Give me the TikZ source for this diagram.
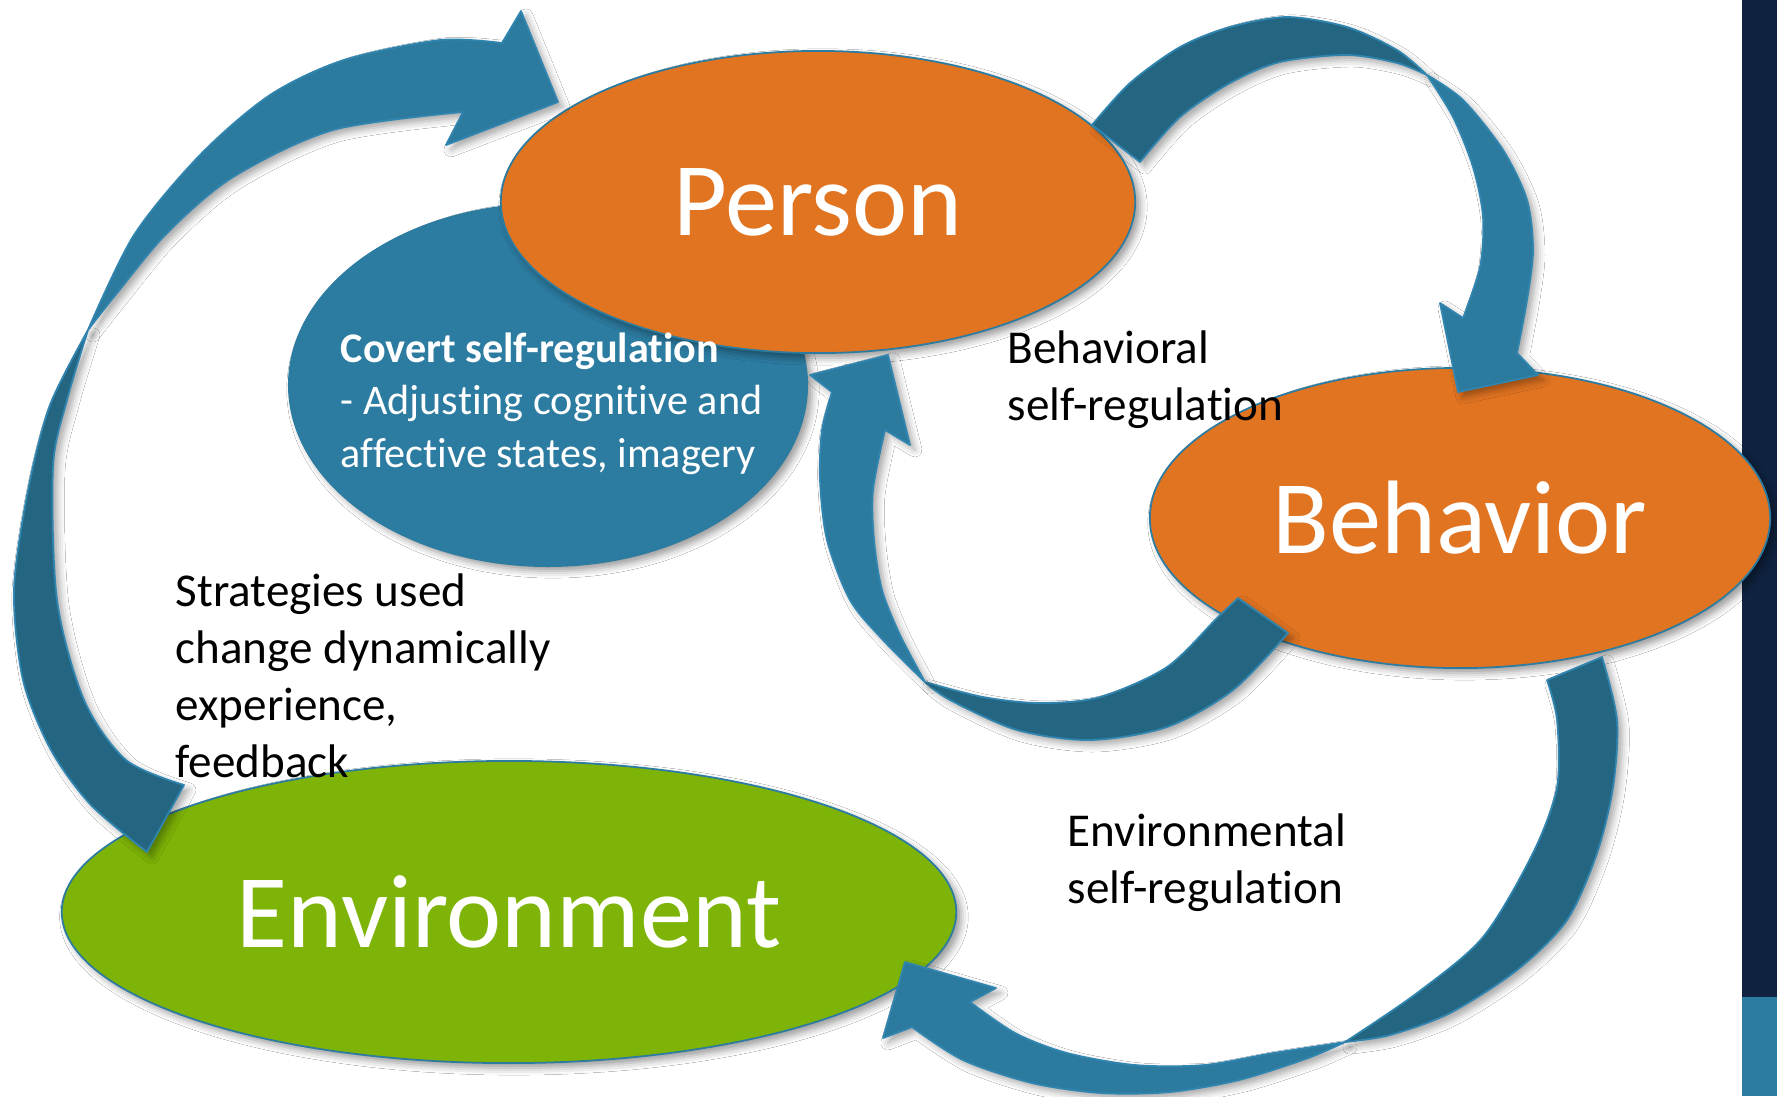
\documentclass[tikz,border=0pt]{standalone}
\usepackage{fontspec}
\setmainfont{Carlito}[Ligatures=NoCommon]
\usetikzlibrary{shapes.geometric, shadows.blur}

\definecolor{orangefill}{HTML}{E17421}
\definecolor{greenfill}{HTML}{7EB407}
\definecolor{bluefill}{HTML}{2C7BA0}
\definecolor{arrowlight}{HTML}{2C7A9E}
\definecolor{arrowdark}{HTML}{246682}
\definecolor{arrowedge}{HTML}{3086B0}
\definecolor{navybar}{HTML}{0F2340}
\definecolor{bgedge}{HTML}{E4E4E4}
\definecolor{bgmid}{HTML}{F5F5F5}

\pgfdeclareradialshading{pagebg}{\pgfpoint{0bp}{0bp}}{color(0bp)=(white); color(38bp)=(white); color(55bp)=(bgmid); color(71bp)=(bgedge)}

\tikzset{
  ovalnode/.style={ellipse, draw=bluefill, line width=0.5pt, inner sep=0pt, text=white,
    blur shadow={shadow xshift=1.4pt, shadow yshift=-1.4pt, shadow blur radius=2pt, shadow opacity=40}},
  bigword/.style={font=\fontsize{29.7}{36}\selectfont},
  notetext/.style={align=left, inner sep=0pt, font=\fontsize{13.4}{16.2}\selectfont},
  bandlight/.style={fill=arrowlight, draw=arrowedge, line width=0.5pt, line join=round,
    blur shadow={shadow xshift=1.4pt, shadow yshift=-1.4pt, shadow blur radius=2pt, shadow opacity=35}},
  banddark/.style={bandlight, fill=arrowdark},
}

\begin{document}
\begin{tikzpicture}[x=0.01cm, y=-0.01cm]
  \useasboundingbox (0,0) rectangle (1777,1096);
  \shade[shading=pagebg] (0,0) rectangle (1742,1096);
  \fill[navybar] (1742,0) rectangle (1777,997);
  \fill[bluefill] (1742,997) rectangle (1777,1096);

  \begin{scope}[every node/.style={ovalnode}]
    \node[fill=greenfill, minimum width=8.94cm, minimum height=3.02cm, bigword] (environment) at (509,912) {Environment};
    \node[fill=bluefill, minimum width=5.18cm, minimum height=3.62cm] (covert) at (548,385) {};
    \node[fill=orangefill, minimum width=6.34cm, minimum height=3.02cm, bigword] (person) at (818,202) {Person};
    \node[fill=orangefill, minimum width=6.2cm, minimum height=3.0cm, bigword] (behavior) at (1460,518) {Behavior};
  \end{scope}

  \begin{scope}
    \path[banddark] plot[smooth] coordinates {(88,330) (50,405) (28,490) (14,590) (23,680) (51,750) (91,805) (147,852)}
      -- plot[smooth] coordinates {(184,785) (126,760) (84,700) (57,600) (53,467) (67,400) (88,330)} -- cycle;
    \path[bandlight] plot[smooth] coordinates {(88,330) (134,235) (200,155) (270,95) (344,60) (440,40) (502,43)}
      -- (521,11) -- (558,102) -- (446,145)
      -- plot[smooth] coordinates {(463,112) (333,130) (233,177) (167,233) (117,293) (88,330)} -- cycle;
  \end{scope}

  \begin{scope}
    \path[banddark] plot[smooth] coordinates {(1092,125) (1130,83) (1180,47) (1230,27) (1287,17) (1347,27) (1397,50) (1427,75)}
      -- plot[smooth] coordinates {(1427,75) (1397,63) (1347,55) (1280,62) (1230,83) (1180,117) (1140,162)} -- cycle;
    \path[bandlight] plot[smooth] coordinates {(1427,75) (1463,100) (1503,150) (1527,200) (1533,250) (1527,300) (1517,353)}
      -- (1538,375) -- (1458,392) -- (1440,303)
      -- plot[smooth] coordinates {(1463,318) (1480,267) (1483,217) (1473,167) (1453,117) (1427,75)} -- cycle;
  \end{scope}

  \begin{scope}
    \path[banddark] plot[smooth] coordinates {(1288,633) (1233,690) (1167,727) (1090,740) (1017,730) (950,700) (925,682)}
      -- plot[smooth] coordinates {(925,682) (983,697) (1040,703) (1100,697) (1167,667) (1217,618) (1238,598)} -- cycle;
    \path[bandlight] plot[smooth] coordinates {(925,682) (883,640) (850,600) (827,540) (820,480) (822,430) (832,392)}
      -- (810,375) -- (888,355) -- (910,445)
      -- plot[smooth] coordinates {(885,430) (873,490) (874,540) (882,590) (900,635) (925,682)} -- cycle;
  \end{scope}

  \begin{scope}
    \path[banddark] plot[smooth] coordinates {(1602,657) (1617,720) (1613,787) (1597,853) (1567,920) (1517,970) (1450,1013) (1390,1035) (1345,1042)}
      -- plot[smooth] coordinates {(1345,1042) (1417,993) (1483,937) (1533,853) (1557,787) (1557,720) (1547,680)} -- cycle;
    \path[bandlight] plot[smooth] coordinates {(1345,1042) (1308,1058) (1239,1080) (1170,1092) (1101,1093) (1032,1083) (963,1060) (912,1027)}
      -- (883,1038) -- (905,962) -- (996,988)
      -- plot[smooth] coordinates {(970,1002) (1015,1033) (1067,1053) (1135,1065) (1204,1065) (1273,1053) (1345,1042)} -- cycle;
  \end{scope}

  \node[notetext, text=white, anchor=base west, font=\fontsize{12}{14.8}\selectfont] (covertlbl) at (340,467)
    {\textbf{Covert self-regulation}\\- Adjusting cognitive and\\affective states, imagery};
  \node[notetext, anchor=base west] (behavlbl) at (1007,420) {Behavioral\\self-regulation};
  \node[notetext, anchor=base west] (envlbl) at (1067,903) {Environmental\\self-regulation};
  \node[notetext, anchor=base west] (stratlbl) at (175,777) {Strategies used\\change dynamically\\experience,\\feedback};
\end{tikzpicture}
\end{document}
